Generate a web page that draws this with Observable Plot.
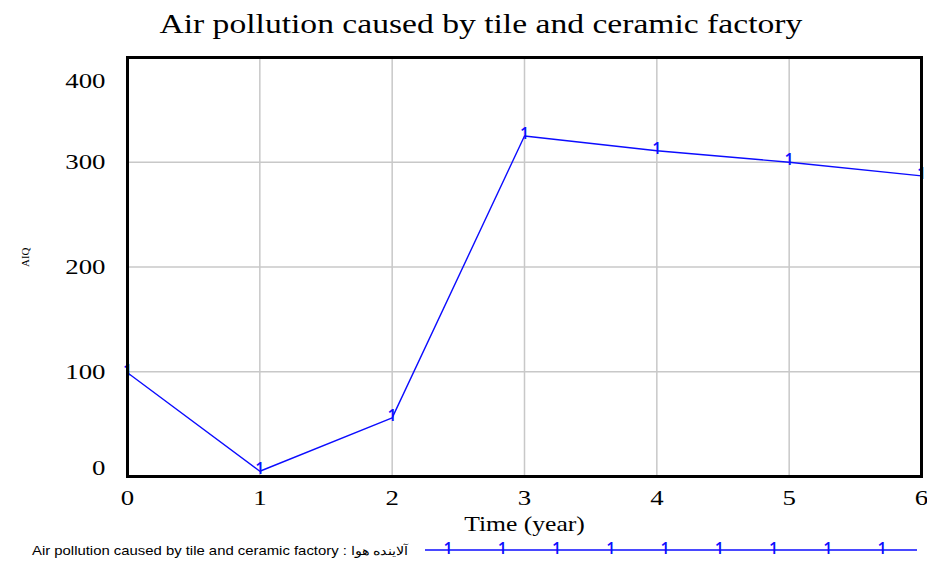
<!DOCTYPE html>
<html>
<head>
<meta charset="utf-8">
<script src="https://cdn.jsdelivr.net/npm/d3@7"></script>
<script src="https://cdn.jsdelivr.net/npm/@observablehq/plot@0.6"></script>
<style>
  html, body { margin: 0; padding: 0; background: white; }
  #title { box-sizing: border-box; width: 927px; height: 50px; line-height: 48px; padding-left: 35px;
    text-align: center; font-family: "Liberation Serif", serif; font-size: 28px; color: #000; white-space: nowrap; }
  #title span { display: inline-block; transform: scaleX(1.2); transform-origin: center; }
  #legend { width: 927px; height: 21px; }
  #legend svg { overflow: visible; display: block; }
</style>
</head>
<body>
<div id="title"><span>Air pollution caused by tile and ceramic factory</span></div>
<div id="chart"></div>
<div id="legend"></div>
<script>
const times = [0, 1, 2, 3, 4, 5, 6];
const aqi = [99, 5, 56, 325, 311, 300, 287];
const xTicks = [0, 1, 2, 3, 4, 5, 6];
const yTicks = [0, 100, 200, 300, 400];
const seriesName = "Air pollution caused by tile and ceramic factory : آلاینده هوا";
const legendMarkers = [0, 1, 2, 3, 4, 5, 6, 7, 8];

const data = times.map((t, i) => ({t, v: aqi[i]}));
const blue = "#0c0cff";
const serif = "Liberation Serif";

const chart = Plot.plot({
  width: 927,
  height: 490,
  marginTop: 7,
  marginBottom: 64,
  marginLeft: 127,
  marginRight: 6,
  x: {domain: [0, 6], axis: null},
  y: {domain: [0, 400], axis: null},
  style: {fontFamily: serif, background: "white", overflow: "visible"},
  marks: [
    Plot.ruleX(xTicks.slice(1, -1), {x: d => d, stroke: "#c8c8c8", strokeWidth: 1.5}),
    Plot.ruleY(yTicks.slice(1, -1), {y: d => d, stroke: "#c8c8c8", strokeWidth: 1.5}),
    Plot.line(data, {x: "t", y: "v", stroke: blue, strokeWidth: 1.4}),
    Plot.text(data, {x: "t", y: "v", text: () => "1", fill: blue, fontFamily: "Open Sans", fontWeight: 600, fontSize: 16, lineAnchor: "middle", dy: -2}),
    Plot.frame({stroke: "black", strokeWidth: 3}),
    Plot.text(xTicks, {x: d => d, frameAnchor: "bottom", dy: 21, text: d => String(d), fontSize: 22, lineAnchor: "middle", fill: "black"}),
    Plot.text(yTicks.filter(d => d > 0 && d < 400), {y: d => d, frameAnchor: "left", dx: -22, textAnchor: "end", text: d => String(d), fontSize: 22, lineAnchor: "middle", fill: "black"}),
    Plot.text(yTicks.filter(d => d === 0), {y: d => d, frameAnchor: "left", dx: -22, dy: -9, textAnchor: "end", text: d => String(d), fontSize: 22, lineAnchor: "middle", fill: "black"}),
    Plot.text(yTicks.filter(d => d === 400), {y: d => d, frameAnchor: "left", dx: -22, dy: 23, textAnchor: "end", text: d => String(d), fontSize: 22, lineAnchor: "middle", fill: "black"}),
    Plot.text(["Time (year)"], {frameAnchor: "bottom", dy: 48, text: d => d, fontSize: 21, lineAnchor: "middle", fill: "black"}),
    Plot.text(["AIQ"], {frameAnchor: "left", dx: -102, rotate: -90, text: d => d, fontSize: 11, lineAnchor: "middle"})
  ]
});
document.getElementById("chart").appendChild(chart);

function stretchTexts(nodes, k) {
  nodes.each(function () {
    const w = this.getComputedTextLength();
    this.setAttribute("textLength", (w * k).toFixed(2));
    this.setAttribute("lengthAdjust", "spacingAndGlyphs");
  });
}
stretchTexts(d3.select(chart).selectAll("text").filter(function () {
  const g = this.closest("g");
  return g && g.getAttribute("fill") === "black";
}), 1.22);

// legend
const lsvg = d3.select("#legend").append("svg").attr("width", 927).attr("height", 21);
const lt = lsvg.append("text").attr("x", 32).attr("y", 11).attr("dy", "0.35em")
  .attr("font-family", "Liberation Sans").attr("font-size", 12.4).attr("fill", "#000")
  .text(seriesName);
stretchTexts(lt, 1.2);
lsvg.append("line").attr("x1", 425).attr("x2", 917).attr("y1", 10).attr("y2", 10)
  .attr("stroke", blue).attr("stroke-width", 1.4);
lsvg.selectAll("text.m").data(legendMarkers).join("text").attr("class", "m")
  .attr("x", d => 448 + d * 54.25).attr("y", 8).attr("dy", "0.35em")
  .attr("text-anchor", "middle").attr("font-family", "Open Sans").attr("font-weight", 600).attr("font-size", 16)
  .attr("fill", blue).text("1");
</script>
</body>
</html>
